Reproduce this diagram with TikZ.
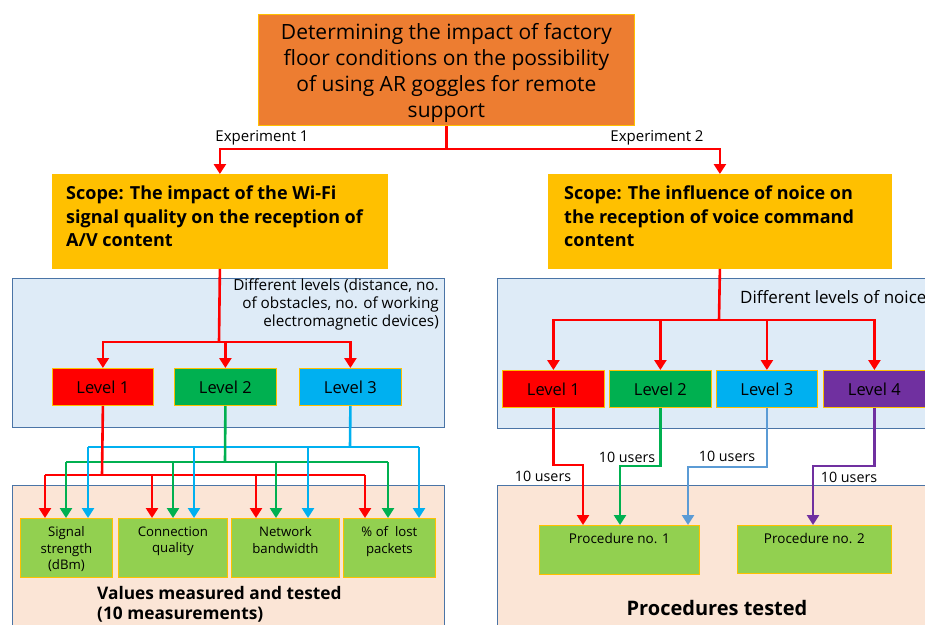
\documentclass[tikz,border=0pt]{standalone}
\usepackage{fontspec}
\setmainfont{Open Sans}
\usetikzlibrary{arrows.meta,calc}
\definecolor{orng}{HTML}{ED7D31}
\definecolor{gold}{HTML}{FFC000}
\definecolor{lblue}{HTML}{DEEBF7}
\definecolor{steel}{HTML}{4A74A6}
\definecolor{peach}{HTML}{FBE5D6}
\definecolor{lgreen}{HTML}{92D050}
\definecolor{dgreen}{HTML}{00B050}
\definecolor{cyanc}{HTML}{00B0F0}
\definecolor{purp}{HTML}{7030A0}
\definecolor{sblue}{HTML}{5B9BD5}
\definecolor{redc}{HTML}{FF0000}
\tikzset{
  box/.style={draw=gold, line width=0.8pt, inner sep=0pt, anchor=north west},
  cont/.style={draw=steel, line width=1.2pt, inner sep=0pt, anchor=north west},
  lvl/.style={box, minimum width=101pt, minimum height=37pt, font=\fontsize{16.5}{18}\selectfont},
  mbox/.style={box, fill=lgreen, minimum height=59pt},
  mtext/.style={anchor=north, align=center, inner sep=0pt, font=\fontsize{13.2}{16.5}\selectfont},
  wire/.style={line width=2.6pt, line join=miter},
  arr/.style={wire, -{Triangle[width=12pt,length=10pt]}},
  lab/.style={inner sep=0pt, font=\fontsize{14.3}{16}\selectfont},
}
\begin{document}
\begin{tikzpicture}[x=1pt,y=-1pt]
\clip (0,0) rectangle (925,624);
\fill[white] (0,0) rectangle (925,624);
% containers
\node[cont, fill=lblue, minimum width=432pt, minimum height=149pt] (bl) at (12,278) {};
\node[cont, fill=lblue, minimum width=450pt, minimum height=150pt] (br) at (497,278) {};
\node[cont, fill=peach, minimum width=432pt, minimum height=160pt] (pl) at (12,485) {};
\node[cont, fill=peach, minimum width=450pt, minimum height=160pt] (pr) at (497,485) {};
% top
\node[box, fill=orng, minimum width=376pt, minimum height=111pt] (top) at (258,14) {};
\node[align=center, inner sep=0pt, font=\fontsize{21}{26}\selectfont] (toptxt) at ($(top.center)+(0,3)$)
  {Determining the impact of factory\\floor conditions on the possibility\\of using AR goggles for remote\\support};
% scopes
\node[box, fill=gold, minimum width=335pt, minimum height=94pt] (sl) at (52,174) {};
\node[box, fill=gold, minimum width=343pt, minimum height=94pt] (sr) at (548,174) {};
\node[anchor=north west, align=left, inner sep=0pt, font=\bfseries\fontsize{18}{23.5}\selectfont] (slt) at (66,186)
  {Scope: The impact of the Wi-Fi\\signal quality on the reception of\\A/V content};
\node[anchor=north west, align=left, inner sep=0pt, font=\bfseries\fontsize{18}{23.5}\selectfont] (srt) at (564,186)
  {Scope: The influence of noice on\\the reception of voice command\\content};
% labels in containers
\node[anchor=north east, align=right, inner sep=0pt, font=\fontsize{15.3}{18}\selectfont] (dl) at (439,279)
  {Different levels (distance, no.\\of obstacles, no. of working\\electromagnetic devices)};
\node[anchor=west, inner sep=0pt, font=\fontsize{17}{18}\selectfont] (dr) at (740,297) {Different levels of noice};
% levels left
\node[lvl, fill=redc] (a1) at (52,368) {Level 1};
\node[lvl, fill=dgreen, minimum width=102pt] (a2) at (174,368) {Level 2};
\node[lvl, fill=cyanc, minimum width=102pt] (a3) at (299,368) {Level 3};
% levels right
\node[lvl, fill=redc, minimum width=102pt] (b1) at (502,370) {Level 1};
\node[lvl, fill=dgreen, minimum width=102pt] (b2) at (609,370) {Level 2};
\node[lvl, fill=cyanc, minimum width=101pt] (b3) at (716,370) {Level 3};
\node[lvl, fill=purp, minimum width=102pt] (b4) at (823,370) {Level 4};
% measurement boxes
\node[mbox, minimum width=92pt] (m1) at (20,518) {};
\node[mbox, minimum width=109pt] (m2) at (118,518) {};
\node[mbox, minimum width=108pt] (m3) at (231,518) {};
\node[mbox, minimum width=92pt] (m4) at (343,518) {};
\node[mtext] (m1t) at ($(m1.north)+(0,8.5)$) {Signal\\strength\\(dBm)};
\node[mtext] (m2t) at ($(m2.north)+(0,8.5)$) {Connection\\quality};
\node[mtext] (m3t) at ($(m3.north)+(0,8.5)$) {Network\\bandwidth};
\node[mtext] (m4t) at ($(m4.north)+(0,8.5)$) {\%\ of\ \ lost\\packets};
\node[anchor=north west, align=left, inner sep=0pt, font=\bfseries\fontsize{17.3}{20}\selectfont] (vt) at (97,586)
  {Values measured and tested\\(10 measurements)};
% procedures
\node[box, fill=lgreen, minimum width=160pt, minimum height=49pt] (p1) at (539,525) {};
\node[box, fill=lgreen, minimum width=154pt, minimum height=48pt] (p2) at (737,525) {};
\node[mtext, font=\fontsize{13.5}{16}\selectfont] (p1t) at ($(p1.north)+(0,8.5)$) {Procedure no. 1};
\node[mtext, font=\fontsize{13.5}{16}\selectfont] (p2t) at ($(p2.north)+(0,8.5)$) {Procedure no. 2};
\node[anchor=north, inner sep=0pt, font=\bfseries\fontsize{20}{22}\selectfont] (pt) at (717,600) {Procedures tested};

% top connectors
\coordinate (tj) at ($(top.south)+(0,23)$);
\draw[wire, redc] (top.south) -- (tj);
\draw[arr, redc] (tj) -| (sl.north);
\draw[arr, redc] (tj) -| (sr.north);
\node[lab, font=\fontsize{15}{16}\selectfont] (e1) at (262,138) {Experiment 1};
\node[lab, font=\fontsize{15}{16}\selectfont] (e2) at (657,138) {Experiment 2};

% left level connectors
\coordinate (lj) at (219,342);
\draw[wire, redc] (sl.south) -- (lj);
\draw[arr, redc] (lj) -| (a1.north);
\draw[arr, redc] (lj) -| (a2.north);
\draw[arr, redc] (lj) -| (a3.north);

% right level connectors
\coordinate (rj) at (719,320);
\draw[wire, redc] (sr.south) -- (rj);
\draw[arr, redc] (rj) -| (b1.north);
\draw[arr, redc] (rj) -| (b2.north);
\draw[arr, redc] (rj) -| (b3.north);
\draw[arr, redc] (rj) -| (b4.north);

% left bus lines
\coordinate (rb) at (102,475);
\coordinate (gb) at (225,462);
\coordinate (bb) at (350,447);
\draw[wire, cyanc] (a3.south) -- (bb);
\draw[wire, cyanc] (88,447) -- (419,447);
\draw[wire, dgreen] (a2.south) -- (gb);
\draw[wire, dgreen] (66,462) -- (388,462);
\draw[wire, redc] (a1.south) -- (rb);
\draw[wire, redc] (45,475) -- (365,475);
\foreach \x in {45,152,256,365}
  \draw[arr, redc] (\x,475) -- (\x,518);
\foreach \x in {66,173,276,388}
  \draw[arr, dgreen] (\x,462) -- (\x,518);
\foreach \x in {88,194,308,419}
  \draw[arr, cyanc] (\x,447) -- (\x,518);

% right user connectors
\draw[arr, redc] (b1.south) |- (583,465) -- ($(p1.north west)+(44,0)$);
\draw[arr, dgreen] (b2.south) |- (620,466) -- ($(p1.north west)+(81,0)$);
\draw[arr, sblue] (b3.south) |- (688,467) -- ($(p1.north west)+(149,0)$);
\draw[arr, purp] (b4.south) |- (813,466) -- ($(p2.north west)+(76,0)$);
\node[lab] (u1) at (543,476) {10 users};
\node[lab] (u2) at (627,457) {10 users};
\node[lab] (u3) at (727,456) {10 users};
\node[lab] (u4) at (849,477) {10 users};
\end{tikzpicture}
\end{document}
